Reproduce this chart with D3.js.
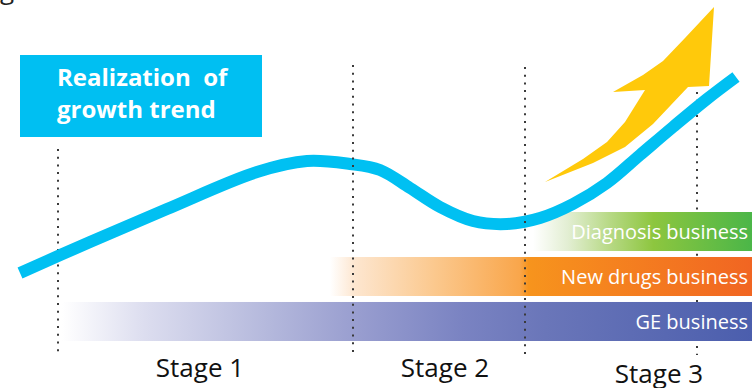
<!DOCTYPE html>
<html>
<head>
<meta charset="utf-8">
<script src="https://cdn.jsdelivr.net/npm/d3@7"></script>
<style>
  html, body { margin: 0; padding: 0; background: #fff; }
  svg { display: block; font-family: "Open Sans", "Noto Sans", sans-serif; }
</style>
</head>
<body>
<svg id="chart" width="752" height="388"></svg>
<script>
// Growth trend: position along the timeline and trend level
const trendX     = [20, 90, 167, 257, 307, 350, 380, 410, 440, 473, 507, 540, 573, 607, 640, 673, 707, 736];
const trendLevel = [115, 146, 179, 216, 227, 224, 218, 200, 181, 167, 164, 170, 184, 205, 233, 261, 289, 311];

// Stage boundaries on the timeline and the stage captions
const stageBounds = [58, 353, 525, 697];
const stageTops   = [239, 323, 321, 296];
const stageLabels = ["Stage 1", "Stage 2", "Stage 3"];
const stageLabelX = [200, 445, 659];

// Business lines: where each one starts to fade in on the timeline
const businesses    = ["Diagnosis business", "New drugs business", "GE business"];
const businessStart = [533, 330, 62];

const svg = d3.select("#chart");
const W = 752, H = 388;

const x = d3.scaleLinear().domain([0, W]).range([0, W]);
const y = d3.scaleLinear().domain([0, H]).range([H, 0]);
const row = d3.scaleBand().domain(businesses).range([212, 341]).paddingInner(0.133).paddingOuter(0);

const defs = svg.append("defs");

// Clipped descender from the heading above
svg.append("text")
  .attr("x", 0).attr("y", -1)
  .attr("font-size", 26).attr("fill", "#222")
  .text("g");

// Title box
svg.append("rect")
  .attr("x", 20).attr("y", 55).attr("width", 242).attr("height", 82)
  .attr("fill", "#00BFF2");
const title = svg.append("text")
  .attr("font-weight", 700).attr("font-size", 24).attr("fill", "#fff");
title.append("tspan").attr("x", 57).attr("y", 86).text("Realization\u00A0 of");
title.append("tspan").attr("x", 57).attr("y", 118).text("growth trend");

// Dotted stage dividers
function divider(i) {
  svg.append("line")
    .attr("x1", x(stageBounds[i])).attr("x2", x(stageBounds[i]))
    .attr("y1", y(stageTops[i])).attr("y2", 355)
    .attr("stroke", "#3a3a3a").attr("stroke-width", 2)
    .attr("stroke-dasharray", "2 5.7");
}
divider(0);
divider(3);

// Gradient-filled business bars
const gradStops = {
  "Diagnosis business": [[0, "#ffffff"], [0.16, "#e2eed2"], [0.35, "#b7d985"], [0.55, "#8dc63f"], [1, "#4bb648"]],
  "New drugs business": [[0, "#ffffff"], [0.06, "#fde6cf"], [0.25, "#fbc88d"], [0.45, "#f9a64b"], [0.47, "#f7941d"], [1, "#f16522"]],
  "GE business":        [[0, "#ffffff"], [0.12, "#dcddef"], [0.3, "#b4b8dc"], [0.42, "#9a9fd0"], [0.58, "#7a83c2"], [0.7, "#6a76b9"], [1, "#4b5ead"]]
};
businesses.forEach((b, i) => {
  const id = "grad" + i;
  const g = defs.append("linearGradient").attr("id", id)
    .attr("gradientUnits", "userSpaceOnUse")
    .attr("x1", x(businessStart[i])).attr("x2", x(W)).attr("y1", 0).attr("y2", 0);
  gradStops[b].forEach(s => g.append("stop").attr("offset", s[0]).attr("stop-color", s[1]));
});

svg.selectAll("rect.bar").data(businesses).join("rect")
  .attr("class", "bar")
  .attr("x", (d, i) => x(businessStart[i]))
  .attr("y", d => row(d))
  .attr("width", (d, i) => x(W) - x(businessStart[i]))
  .attr("height", row.bandwidth())
  .attr("fill", (d, i) => "url(#grad" + i + ")");

svg.selectAll("text.bar-label").data(businesses).join("text")
  .attr("class", "bar-label")
  .attr("x", 748)
  .attr("y", d => row(d) + row.bandwidth() * 0.7)
  .attr("text-anchor", "end")
  .attr("font-size", 20).attr("fill", "#fff")
  .text(d => d);

// Trend line
const trend = trendX.map((v, i) => [x(v), y(trendLevel[i])]);
svg.append("path")
  .attr("d", d3.line().curve(d3.curveCatmullRom.alpha(0.5))(trend))
  .attr("fill", "none").attr("stroke", "#00C0F2")
  .attr("stroke-width", 12).attr("stroke-linecap", "butt").attr("stroke-linejoin", "round");

divider(1);
divider(2);

// Rising arrow
const arrowOutline = [
  [545, 206], [593, 225], [625, 241], [653, 264], [688, 301], [709, 302], [714, 381],
  [685, 350], [663, 327], [643, 313], [613, 296], [645, 298], [625, 266], [607, 246], [583, 229]
];
svg.append("path")
  .attr("d", d3.line().x(d => x(d[0])).y(d => y(d[1]))(arrowOutline) + "Z")
  .attr("fill", "#FFC90B");

// Stage captions
svg.selectAll("text.stage").data(stageLabels).join("text")
  .attr("class", "stage")
  .attr("x", (d, i) => x(stageLabelX[i]))
  .attr("y", (d, i) => i === 2 ? 383 : 377)
  .attr("text-anchor", "middle")
  .attr("font-size", 26).attr("fill", "#111")
  .text(d => d);
</script>
</body>
</html>
